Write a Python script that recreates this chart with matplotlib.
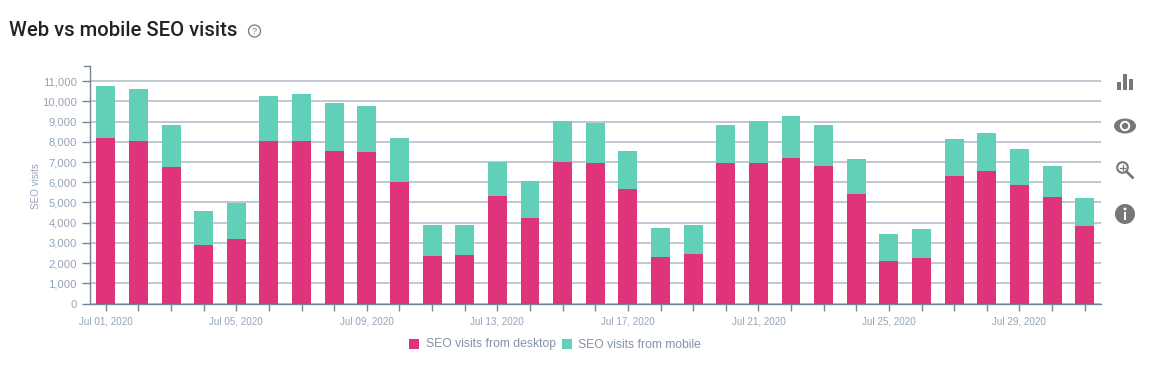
import matplotlib
matplotlib.use("Agg")
import matplotlib.pyplot as plt
from matplotlib.patches import Circle, Rectangle, Ellipse
from matplotlib.ticker import FuncFormatter
import numpy as np

dates = [f"Jul {d:02d}, 2020" for d in range(1, 32)]
desktop = [8200, 8050, 6750, 2900, 3200, 8020, 8020, 7560, 7520, 6030, 2370,
           2400, 5340, 4250, 7020, 6950, 5680, 2300, 2450, 6950, 6950, 7220,
           6780, 5430, 2100, 2250, 6320, 6580, 5880, 5270, 3850]
mobile = [2550, 2550, 2100, 1700, 1750, 2230, 2330, 2340, 2230, 2140, 1530,
          1500, 1660, 1830, 2010, 2000, 1880, 1450, 1450, 1870, 2080, 2080,
          2040, 1740, 1350, 1450, 1810, 1840, 1770, 1550, 1350]
y_ticks = list(range(0, 12000, 1000))

W, H = 1149, 366
PINK = "#df347c"
GREEN = "#62d0b8"
AXIS = "#75869a"
GRID = "#aeb9c7"
TEXT = "#95a3b6"

plt.rcParams["font.family"] = ["Liberation Sans", "DejaVu Sans"]
fig = plt.figure(figsize=(W / 100, H / 100), dpi=100)

left, right, top, bottom = 89.5, 1101, 65.5, 303.5
ax = fig.add_axes([left / W, 1 - bottom / H, (right - left) / W, (bottom - top) / H])

x = np.arange(len(dates))
ax.bar(x, desktop, width=0.58, color=PINK, zorder=3, label="SEO visits from desktop")
ax.bar(x, mobile, width=0.58, bottom=desktop, color=GREEN, zorder=3, label="SEO visits from mobile")

ax.set_xlim(-0.5, len(dates) - 0.5)
ax.set_ylim(0, 11775)
ax.set_yticks(y_ticks)
ax.yaxis.set_major_formatter(FuncFormatter(lambda v, p: f"{int(v):,}"))
ax.set_xticks(x)
ax.set_xticklabels([d if i % 4 == 0 else "" for i, d in enumerate(dates)])
ax.grid(axis="y", color=GRID, linewidth=1.1, zorder=1)
ax.tick_params(axis="y", colors=AXIS, labelcolor=TEXT, labelsize=8.1, length=6, width=1, pad=3)
ax.tick_params(axis="x", colors=AXIS, labelcolor=TEXT, labelsize=7.1, length=5, width=1, pad=4)
for s in ["top", "right"]:
    ax.spines[s].set_visible(False)
for s in ["left", "bottom"]:
    ax.spines[s].set_color(AXIS)
    ax.spines[s].set_linewidth(1)
# little cap at the top of the y axis
ax.plot([-6 / 32.63 - 0.5, -0.5], [11775, 11775], color=AXIS, lw=1, clip_on=False, zorder=4)

fig.text(36 / W, 1 - 186 / H, "SEO visits", rotation=90, color=TEXT, fontsize=7.1,
         ha="center", va="center")

fig.text(9 / W, 1 - 30 / H, "Web vs mobile SEO visits", family=["Roboto", "DejaVu Sans"],
         fontweight="medium", fontsize=14.6, color="#222222", ha="left", va="center")

# overlay for icons, in pixel coordinates
ov = fig.add_axes([0, 0, 1, 1], facecolor="none")
ov.set_xlim(0, W)
ov.set_ylim(H, 0)
ov.set_aspect("equal")
ov.axis("off")
ICON = "#777777"

ov.add_patch(Circle((254.5, 31), 6, fill=False, ec="#777777", lw=0.9))
ov.text(254.5, 31.3, "?", ha="center", va="center", fontsize=6.5, color="#777777")

# bar chart icon
ov.add_patch(Rectangle((1117, 82), 4, 8, color=ICON, lw=0))
ov.add_patch(Rectangle((1123, 74), 4, 16, color=ICON, lw=0))
ov.add_patch(Rectangle((1129, 79), 4, 11, color=ICON, lw=0))

# eye icon
ov.add_patch(Ellipse((1125, 126), 22, 15, color=ICON, lw=0))
ov.add_patch(Circle((1125, 126), 5.2, color="white", lw=0))
ov.add_patch(Circle((1125, 126), 3.2, color=ICON, lw=0))

# zoom icon
ov.add_patch(Circle((1122.5, 167.5), 5.3, fill=False, ec=ICON, lw=1.5))
ov.plot([1119.8, 1125.2], [167.5, 167.5], color=ICON, lw=0.9)
ov.plot([1122.5, 1122.5], [164.8, 170.2], color=ICON, lw=0.9)
ov.plot([1127, 1132.5], [172, 177.5], color=ICON, lw=2)

# info icon
ov.add_patch(Circle((1125, 214), 10, color=ICON, lw=0))
ov.add_patch(Circle((1125, 209), 1.4, color="white", lw=0))
ov.add_patch(Rectangle((1123.7, 212), 2.6, 8, color="white", lw=0))

# legend
leg_items = [(409, PINK, "SEO visits from desktop"), (562, GREEN, "SEO visits from mobile")]
for px, col, label in leg_items:
    ov.add_patch(Rectangle((px, 339), 10, 10, color=col, lw=0))
    ov.text(px + 16.5, 344.5, label, ha="left", va="center", fontsize=8.7, color="#8492a6")

fig.savefig("out.png", dpi=100)
